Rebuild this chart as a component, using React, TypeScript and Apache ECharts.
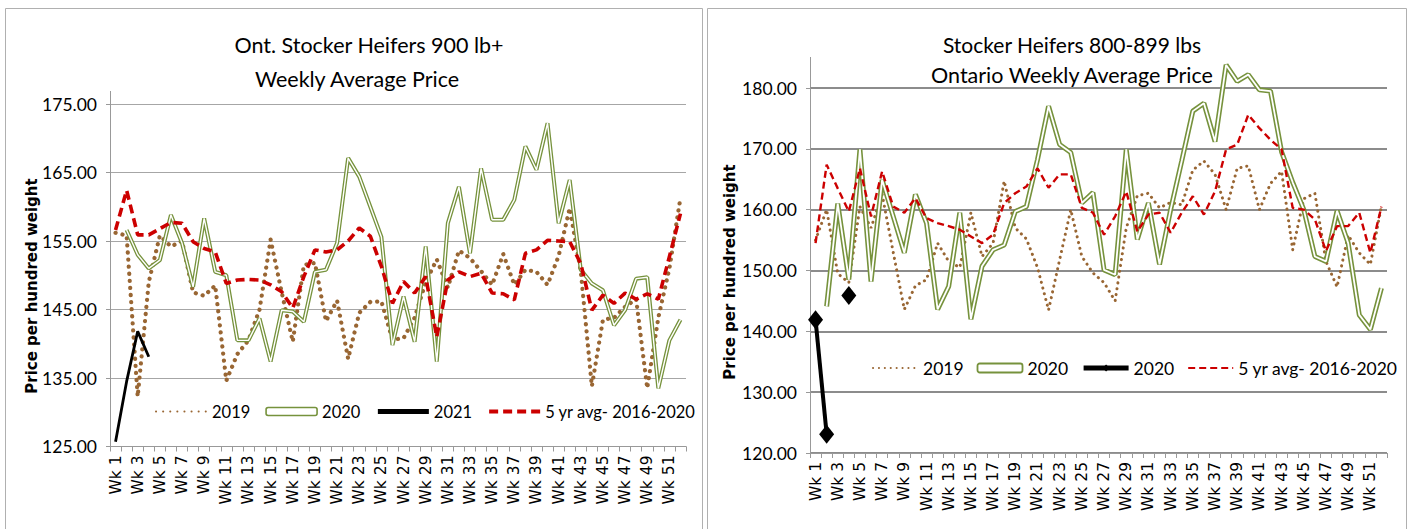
import React, { useEffect, useRef } from 'react';
import * as echarts from 'echarts';

const weeks = [
  'Wk 1','Wk 2','Wk 3','Wk 4','Wk 5','Wk 6','Wk 7','Wk 8','Wk 9','Wk 10',
  'Wk 11','Wk 12','Wk 13','Wk 14','Wk 15','Wk 16','Wk 17','Wk 18','Wk 19','Wk 20',
  'Wk 21','Wk 22','Wk 23','Wk 24','Wk 25','Wk 26','Wk 27','Wk 28','Wk 29','Wk 30',
  'Wk 31','Wk 32','Wk 33','Wk 34','Wk 35','Wk 36','Wk 37','Wk 38','Wk 39','Wk 40',
  'Wk 41','Wk 42','Wk 43','Wk 44','Wk 45','Wk 46','Wk 47','Wk 48','Wk 49','Wk 50',
  'Wk 51','Wk 52'
];

// Left chart: Ont. Stocker Heifers 900 lb+
const left2019 = [156.2,155.8,132.3,149.0,155.8,154.2,155.0,147.5,147.0,148.5,
  134.6,138.5,140.5,145.0,155.2,147.5,140.3,151.5,151.8,143.3,
  146.3,137.8,144.5,146.1,146.2,140.6,140.8,143.8,149.0,152.3,
  148.2,153.6,152.5,150.6,148.6,153.1,148.6,150.8,150.5,148.6,
  152.8,159.8,150.6,133.8,143.5,143.8,145.4,146.5,133.5,143.8,
  151.0,161.3];
const left2020 = [null,156.6,153.0,151.0,152.2,158.8,154.7,148.3,158.3,150.5,
  150.0,140.5,140.5,143.7,137.4,144.9,144.7,143.2,150.5,150.8,
  154.7,167.1,164.4,160.0,155.6,139.8,146.9,140.3,154.2,137.4,
  157.6,162.9,153.2,165.6,158.1,158.1,161.0,168.8,165.4,172.2,
  157.6,163.9,150.8,148.8,147.8,142.7,144.9,149.5,149.7,133.5,
  140.5,143.5];
const left2021 = [125.7,134.5,141.8,138.1];
const left5yr = [156.6,162.4,155.9,155.9,156.8,157.7,157.6,154.9,153.9,153.4,
  148.8,149.3,149.4,149.3,148.6,147.6,145.2,149.8,153.7,153.4,
  153.7,155.0,156.9,155.7,151.3,145.9,149.1,147.4,149.8,141.0,
  149.3,150.5,149.8,150.3,147.4,147.3,146.4,153.2,153.7,155.1,
  155.0,154.9,151.7,144.9,147.1,145.9,147.4,146.5,147.3,146.5,
  152.7,159.0];
const leftTicks = [125, 175, 10];

// Right chart: Stocker Heifers 800-899 lbs
const right2019 = [155.0,160.0,149.5,148.0,160.5,157.0,162.5,153.0,143.6,147.5,
  148.5,154.5,151.5,150.5,159.5,152.3,154.5,164.7,157.0,155.2,
  150.5,143.5,151.8,160.0,152.3,149.6,148.0,145.0,157.0,162.3,
  162.7,160.3,161.2,160.8,166.5,168.0,165.8,160.0,166.8,167.2,
  160.0,164.3,166.3,153.4,161.8,162.7,151.5,147.3,155.8,152.9,
  151.0,160.6];
const right2020 = [null,144.1,161.0,148.5,169.9,148.2,164.9,158.9,152.9,162.5,
  157.8,143.6,147.4,159.5,142.0,150.7,153.4,154.2,159.7,160.5,
  168.2,177.0,170.7,169.4,161.1,162.8,150.1,149.3,169.9,155.1,
  161.1,151.0,160.0,168.0,176.2,177.5,171.2,183.8,181.1,182.2,
  179.7,179.5,169.5,164.5,160.0,152.3,151.5,159.8,154.5,142.7,
  140.3,147.1];
const right2021 = [141.9,123.1,null,145.9];
const right5yr = [154.5,167.4,163.5,159.7,166.8,158.9,166.3,160.5,159.5,161.9,
  158.6,157.8,157.3,156.7,155.6,154.5,155.9,161.1,162.7,163.8,
  166.8,163.6,165.8,165.8,160.3,159.5,155.9,158.9,163.0,156.4,
  159.2,159.5,156.2,159.5,162.2,159.2,163.0,169.9,170.7,175.6,
  173.4,171.5,169.9,160.3,160.0,158.4,153.2,157.3,157.3,159.5,
  152.9,160.5];
const rightTicks = [120, 180, 10];

const legendNames: Record<string, string> = {
  L2019: '2019', L2020: '2020', L2021: '2021', L5yr: '5 yr avg- 2016-2020',
  R2019: '2019', R2020: '2020', R2021: '2020', R5yr: '5 yr avg- 2016-2020',
};

const NARROW = "Lato, 'Liberation Sans', sans-serif";
const WIDE = "'DejaVu Sans', Verdana, sans-serif";
const BROWN = '#996633';
const GREEN = '#76923C';
const RED = '#CC0000';

const hideSym = { opacity: 0, borderWidth: 0 };

function buildOption() {
  const xAxisBase = (gi: number) => ({
    type: 'category', gridIndex: gi, data: weeks, boundaryGap: true,
    axisLine: { show: true, lineStyle: { color: '#999', width: 1 } },
    axisTick: { show: true, interval: 0, length: 5, lineStyle: { color: '#999' } },
    axisLabel: { interval: 1, rotate: 90, margin: 9, fontFamily: WIDE, fontSize: 15.5, color: '#000' },
    splitLine: { show: false },
  });
  const yAxisBase = (gi: number, t: number[], gridColor: string, gridW: number) => ({
    type: 'value', gridIndex: gi, min: t[0], max: t[1], interval: t[2],
    axisLine: { show: true, lineStyle: { color: '#999', width: 1 } },
    axisTick: { show: true, length: 4, lineStyle: { color: '#999' } },
    axisLabel: { formatter: (v: number) => v.toFixed(2), fontFamily: NARROW, fontSize: 17.5, color: '#000', margin: 13 },
    splitLine: { show: true, lineStyle: { color: gridColor, width: gridW } },
  });
  const line = (name: string, idx: number, data: any[], extra: any) => ({
    name, type: 'line', xAxisIndex: idx, yAxisIndex: idx, data,
    symbol: 'none', connectNulls: false, clip: false, ...extra,
  });

  return {
    animation: false,
    backgroundColor: '#fff',
    grid: [
      { left: 110, top: 104, width: 576, height: 342.5 },
      { left: 810, top: 88, width: 577, height: 365 },
    ],
    xAxis: [xAxisBase(0), xAxisBase(1)],
    yAxis: [yAxisBase(0, leftTicks, '#a6a6a6', 1), yAxisBase(1, rightTicks, '#8c8c8c', 2)],
    legend: [
      {
        left: 155, top: 403, width: 620, padding: 0, itemWidth: 51, itemHeight: 8, itemGap: 15,
        formatter: (n: string) => legendNames[n],
        textStyle: { fontFamily: NARROW, fontSize: 16.5, color: '#000' },
        data: [
          { name: 'L2019', itemStyle: hideSym },
          { name: 'L2020', icon: 'roundRect', itemStyle: { color: '#fff', borderColor: GREEN, borderWidth: 1.6 } },
          { name: 'L2021', itemStyle: hideSym, lineStyle: { width: 5 } },
          { name: 'L5yr', itemStyle: hideSym, lineStyle: { width: 4 } },
        ],
      },
      {
        left: 872, top: 359, width: 537, padding: 0, itemWidth: 45, itemHeight: 9, itemGap: 13,
        formatter: (n: string) => legendNames[n],
        textStyle: { fontFamily: NARROW, fontSize: 17.5, color: '#000' },
        data: [
          { name: 'R2019', itemStyle: hideSym },
          { name: 'R2020', icon: 'roundRect', itemStyle: { color: '#fff', borderColor: GREEN, borderWidth: 1.8 } },
          { name: 'R2021', lineStyle: { width: 5 } },
          { name: 'R5yr', itemStyle: hideSym },
        ],
      },
    ],
    series: [
      line('L2019', 0, left2019, { lineStyle: { color: BROWN, width: 4.2, type: [0.1, 7], cap: 'round' }, itemStyle: { color: BROWN } }),
      line('L2020', 0, left2020, { lineStyle: { color: GREEN, width: 4 }, itemStyle: { color: GREEN } }),
      line('L2020in', 0, left2020, { lineStyle: { color: '#fff', width: 1.4 }, itemStyle: { color: '#fff' }, silent: true }),
      line('L2021', 0, left2021, { lineStyle: { color: '#000', width: 2.8 }, itemStyle: { color: '#000' } }),
      line('L5yr', 0, left5yr, { lineStyle: { color: RED, width: 3.6, type: [9, 5] }, itemStyle: { color: RED } }),

      line('R2019', 1, right2019, { lineStyle: { color: BROWN, width: 3, type: [0.1, 5.8], cap: 'round' }, itemStyle: { color: BROWN } }),
      line('R2020', 1, right2020, { lineStyle: { color: GREEN, width: 5 }, itemStyle: { color: GREEN } }),
      line('R2020in', 1, right2020, { lineStyle: { color: '#fff', width: 1.8 }, itemStyle: { color: '#fff' }, silent: true }),
      line('R2021', 1, right2021, { symbol: 'diamond', symbolSize: [15, 19], showSymbol: true, showAllSymbol: true, lineStyle: { color: '#000', width: 4 }, itemStyle: { color: '#000' } }),
      line('R5yr', 1, right5yr, { lineStyle: { color: RED, width: 2.4, type: [7, 4] }, itemStyle: { color: RED } }),
    ],
    graphic: [
      { type: 'rect', shape: { x: 5.5, y: 8.5, width: 697, height: 530 }, style: { fill: 'none', stroke: '#b0b0b0', lineWidth: 1 }, silent: true },
      { type: 'rect', shape: { x: 707.5, y: 8.5, width: 699, height: 530 }, style: { fill: 'none', stroke: '#b0b0b0', lineWidth: 1 }, silent: true },
      { type: 'line', shape: { x1: 110.5, y1: 91, x2: 110.5, y2: 104 }, style: { stroke: '#999', lineWidth: 1 }, silent: true },
      { type: 'line', shape: { x1: 810.5, y1: 57, x2: 810.5, y2: 88 }, style: { stroke: '#999', lineWidth: 1 }, silent: true },
      { type: 'text', x: 369, y: 45, style: { text: 'Ont. Stocker Heifers 900 lb+', fontFamily: NARROW, fontSize: 21.5, fill: '#000', align: 'center', verticalAlign: 'middle', textAlign: 'center', textVerticalAlign: 'middle' } },
      { type: 'text', x: 357, y: 79, style: { text: 'Weekly Average Price', fontFamily: NARROW, fontSize: 21.5, fill: '#000', align: 'center', verticalAlign: 'middle', textAlign: 'center', textVerticalAlign: 'middle' } },
      { type: 'text', x: 1072, y: 44, style: { text: 'Stocker Heifers 800-899 lbs', fontFamily: NARROW, fontSize: 21, fill: '#000', align: 'center', verticalAlign: 'middle', textAlign: 'center', textVerticalAlign: 'middle' } },
      { type: 'text', x: 1072, y: 75, style: { text: 'Ontario Weekly Average Price', fontFamily: NARROW, fontSize: 21.5, fill: '#000', align: 'center', verticalAlign: 'middle', textAlign: 'center', textVerticalAlign: 'middle' } },
      { type: 'text', x: 32, y: 286, rotation: Math.PI / 2, style: { text: 'Price per hundred weight', fontFamily: WIDE, fontWeight: 'bold', fontSize: 15, fill: '#000', align: 'center', verticalAlign: 'middle', textAlign: 'center', textVerticalAlign: 'middle' } },
      { type: 'text', x: 730, y: 272, rotation: Math.PI / 2, style: { text: 'Price per hundred weight', fontFamily: WIDE, fontWeight: 'bold', fontSize: 15, fill: '#000', align: 'center', verticalAlign: 'middle', textAlign: 'center', textVerticalAlign: 'middle' } },
    ],
  };
}

export default function App() {
  const ref = useRef<HTMLDivElement>(null);
  useEffect(() => {
    if (!ref.current) return;
    const chart = echarts.init(ref.current, null, { renderer: 'svg' });
    chart.setOption(buildOption() as any);
    return () => chart.dispose();
  }, []);
  return (
    <div
      ref={ref}
      style={{ position: 'absolute', left: 0, top: 0, width: 1409, height: 529, background: '#fff' }}
    />
  );
}
